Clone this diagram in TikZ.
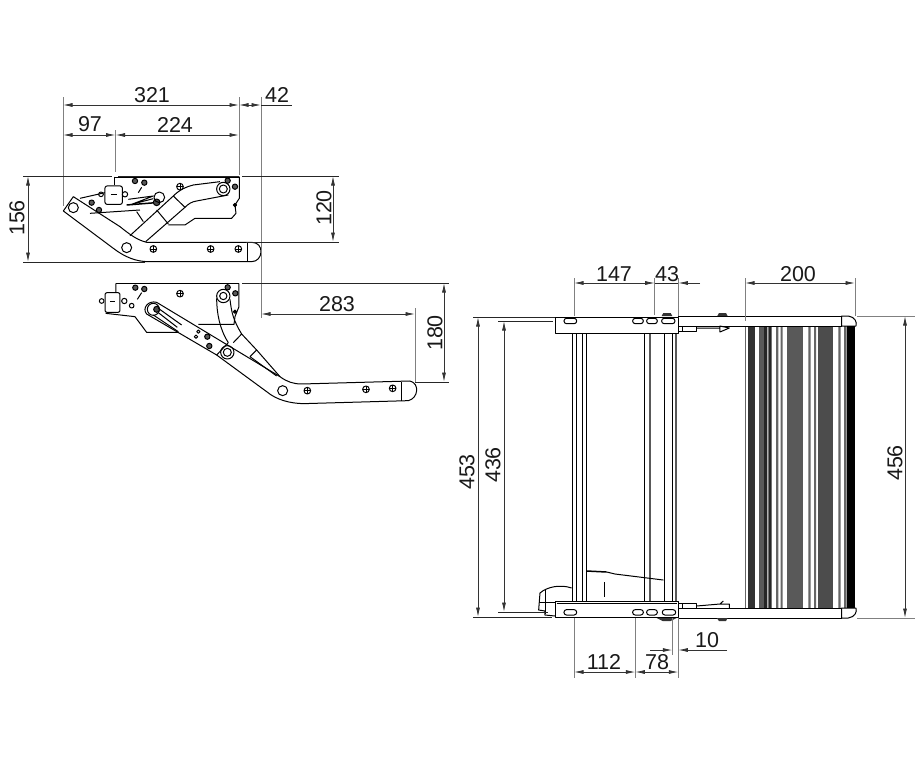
\documentclass[tikz,border=0pt]{standalone}
\usepackage{fontspec}
\setmainfont{Liberation Sans}
\usetikzlibrary{arrows.meta}
\tikzset{
  part/.style={draw=black,line width=1pt,line join=round},
  thin part/.style={draw=black,line width=0.7pt},
  heavy/.style={draw=black,line width=1.5pt},
  extline/.style={draw=black!50,line width=0.8pt},
  refline/.style={draw=black!85,line width=0.9pt},
  dimline/.style={draw=black!80,line width=0.8pt,{Latex[length=9.5pt,width=4pt]}-{Latex[length=9.5pt,width=4pt]}},
  dimtail/.style={draw=black!80,line width=0.8pt,-{Latex[length=9.5pt,width=4pt]}},
  dimtext/.style={font=\fontsize{21.5}{23}\selectfont,inner sep=0pt,text=black!90},
  zoomed/.style={x=0.3333pt,y=-0.3333pt}
}
\newcommand{\CrossScrew}[1]{%
  \draw[part] (#1) circle[radius=10];
  \draw[thin part] (#1) +(-10,0) -- +(10,0) (#1) +(0,-10) -- +(0,10);
}
\newcommand{\DarkScrew}[1]{%
  \draw[part,fill=black!65] (#1) circle[radius=8];
}
\newcommand{\SlotHole}[3]{%
  \draw[part,rounded corners=2.5pt] (#1-#3,#2-8) rectangle (#1+#3,#2+8);
}
\begin{document}
\begin{tikzpicture}[x=1pt,y=-1pt]
%
\useasboundingbox (0,0) rectangle (920,774);
%
% folded view
\begin{scope}[shift={(0,70)},zoomed]
\draw[part] (220,380) -- (190,423) -- (340,535) .. controls (375,562) and (410,575) .. (445,575) -- (755,575)
  .. controls (790,575) and (795,517) .. (755,517) -- (440,517) .. controls (410,510) and (385,490) .. (360,470) -- cycle;
\draw[part] (742,517) -- (742,575);
\draw[part] (390,497) -- (520,378) .. controls (540,358) and (560,350) .. (580,345) -- (660,335);
\draw[part] (437,515) -- (555,412) .. controls (565,402) and (575,395) .. (590,393) -- (685,375);
\draw[part] (470,420) -- (505,462) (520,378) -- (555,412) (410,425) -- (430,455);
\draw[part] (670,357) circle[radius=20];
\draw[part] (670,357) circle[radius=12];
\draw[part] (220,413) circle[radius=15];
\draw[part] (380,533) circle[radius=15];
\draw[heavy] (345,322) -- (718,322);
\draw[part] (718,320) -- (718,385) -- (705,405) -- (708,430) -- (695,445) -- (585,445) -- (555,465) -- (505,465);
\draw[part] (240,385) -- (315,368);
\draw[part] (270,430) -- (420,420);
\draw[part] (345,320) -- (345,345);
\draw[part,rounded corners=2pt,fill=white] (315,348) rectangle (367,403);
\draw[thin part] (333,373) -- (350,373);
\draw[part] (303,373) circle[radius=7] (375,373) circle[radius=8];
\draw[heavy] (380,405) -- (480,397);
\draw[part] (385,388) -- (460,378) -- (395,403) -- (460,386);
\draw[part,fill=black!70] (470,397) circle[radius=10];
\draw[part] (478,382) circle[radius=16];
\draw[part] (415,368) -- (425,352);
\CrossScrew{460,537}\CrossScrew{632,537}\CrossScrew{715,537}\CrossScrew{540,350}
\DarkScrew{405,333}\DarkScrew{433,338}\DarkScrew{683,332}\DarkScrew{705,350}\DarkScrew{297,420}\DarkScrew{275,398}
\draw[part,fill=black] (705,405) circle[radius=5];
\end{scope}
%
% opened view
\begin{scope}[shift={(90,270)},zoomed]
\draw[part] (200,97) -- (570,320) .. controls (590,335) and (610,342) .. (635,342) -- (960,333)
  .. controls (990,340) and (985,385) .. (955,392) -- (640,401) .. controls (600,400) and (560,390) .. (530,365)
  -- (380,255) -- (170,132) .. controls (155,115) and (175,90) .. (200,97);
\draw[part] (935,335) -- (935,392);
\draw[part] (415,218) -- (380,255);
\draw[part] (380,85) .. controls (380,130) and (390,180) .. (415,218);
\draw[part] (420,88) .. controls (425,130) and (430,150) .. (455,192) -- (500,240) -- (570,320);
\draw[part] (480,260) -- (560,318) (455,192) -- (430,218) (500,240) -- (480,260);
\draw[part] (400,78) circle[radius=20];
\draw[part] (400,78) circle[radius=11];
\draw[part] (412,247) circle[radius=20];
\draw[part] (412,247) circle[radius=12];
\draw[part] (578,362) circle[radius=15];
\draw[heavy] (78,41) -- (447,41);
\draw[part] (78,40) -- (78,68) (447,40) -- (447,110) -- (435,140) -- (432,163) -- (325,163);
\draw[part] (265,187) -- (170,187) -- (135,140) -- (47,130);
\draw[part,rounded corners=2pt,fill=white] (45,68) rectangle (90,127);
\draw[thin part] (60,93) -- (75,93);
\draw[part] (35,93) circle[radius=7] (103,93) circle[radius=8] (125,107) circle[radius=7];
\draw[part] (190,118) circle[radius=18];
\draw[part,fill=black!70] (200,118) circle[radius=9];
\draw[part] (205,115) -- (275,165) (190,135) -- (265,185) (205,128) -- (262,172);
\draw[part] (142,88) -- (155,68);
\draw[part] (325,185) circle[radius=5] (318,200) circle[radius=5];
\CrossScrew{652,362}\CrossScrew{828,358}\CrossScrew{908,355}\CrossScrew{270,71}
\DarkScrew{136,53}\DarkScrew{163,57}\DarkScrew{413,52}\DarkScrew{436,70}\DarkScrew{352,200}\DarkScrew{358,228}
\draw[part,fill=black] (435,125) circle[radius=5];
\end{scope}
%
% front view, step and tubes
\foreach \tx in {572,576.7,582,586,644,664.7,672} {
  \draw[thin part] (\tx,333) -- (\tx,601);
}
\draw[draw=black!65,line width=2.6pt] (650,333) -- (650,601) (676,333) -- (676,601);
\fill[black!60] (744.7,326) rectangle (746,608);
\fill[black!80] (748,326) rectangle (755.3,608);
\fill[black!65] (759.3,326) rectangle (764,608);
\fill[black!85] (764,326) rectangle (767.3,608) (768.3,326) rectangle (771.7,608);
\fill[black!60] (776,326) rectangle (778.3,608) (780.7,326) rectangle (782.7,608);
\fill[black!65] (786.7,326) rectangle (802.7,608);
\fill[black!60] (808.3,326) rectangle (810.7,608) (814,326) rectangle (816,608);
\fill[black!70] (818.3,326) rectangle (833.3,608);
\fill[black!60] (838.3,326) rectangle (840.7,608) (844,326) rectangle (846.7,608);
\fill[black] (847.3,326) rectangle (855,608);
%
\begin{scope}[shift={(460,0)},x=0.3333pt]
\draw[part] (655,316) -- (1145,316) (655,326) -- (1145,326);
\draw[part] (655,608) -- (1145,608) (655,618) -- (1145,618);
\draw[part] (1145,316) -- (1165,316) .. controls (1185,317) and (1192,322) .. (1188,326) -- (1145,326) -- cycle;
\draw[part] (1145,608) -- (1188,608) .. controls (1192,612) and (1185,617) .. (1165,618) -- (1145,618) -- cycle;
\fill[black!80] (605,316) -- (610,313) -- (632,313) -- (637,316) -- cycle (772,316) -- (777,313) -- (798,313) -- (803,316) -- cycle;
\fill[black!80] (590,618) -- (608,621) -- (632,621) -- (650,618) -- cycle (770,618) -- (777,621) -- (798,621) -- (803,618) -- cycle;
\draw[part] (655,326) rectangle (668,331) (668,326) rectangle (710,331);
\draw[part] (710,328) -- (780,328) (780,326) -- (808,328) -- (780,332) -- cycle;
\draw[part] (655,603) rectangle (668,608) (668,603) rectangle (710,608);
\draw[part] (710,606) -- (780,604) -- (808,604) -- (808,608) (780,604) -- (790,601);
\draw[heavy] (380,571) -- (440,572);
\draw[part] (440,572) -- (465,574) -- (610,580);
\draw[thin part] (432,582) -- (432,597);
\draw[part] (335,588) .. controls (300,584) and (260,587) .. (240,593) -- (236,610) -- (255,611) -- (255,615) -- (285,616);
\draw[part] (237,602) -- (287,602);
\draw[thin part] (255,590) -- (255,614);
\draw[part,fill=white] (287,317) rectangle (655,333);
\draw[part,fill=white] (287,601) rectangle (655,617);
\draw[thin part] (290,603.5) -- (652,603.5);
\end{scope}
%
\begin{scope}[shift={(460,260)},zoomed]
\SlotHole{331}{183}{19}\SlotHole{534}{183}{16}\SlotHole{576}{183}{16}\SlotHole{625}{183}{20}
\end{scope}
\begin{scope}[shift={(460,550)},zoomed]
\SlotHole{331}{187}{19}\SlotHole{534}{187}{16}\SlotHole{576}{187}{16}\SlotHole{627}{187}{20}
\end{scope}
%
% extension lines, folded view
\draw[extline] (63,97) -- (63,206);
\draw[extline] (239,97) -- (239,175);
\draw[extline] (115.5,130) -- (115.5,172);
\draw[extline] (261,97) -- (261,318);
\draw[refline] (23,176) -- (112,176) (118,176) -- (239,176) (242,176) -- (339,176);
\draw[refline] (23,262) -- (145,262);
\draw[refline] (246,242) -- (339,242);
% extension lines, opened view
\draw[refline] (242,283) -- (449,283);
\draw[extline] (415,308) -- (415,382);
\draw[refline] (415,382) -- (449,382);
% extension lines, front view
\draw[refline] (473,317) -- (555,317) (473,617) -- (552,617);
\draw[refline] (498,321) -- (553,321) (498,612) -- (548,612);
\draw[extline] (857,316) -- (915,316) (857,618) -- (915,618);
\draw[extline] (574,278) -- (574,316) (654.7,278) -- (654.7,315) (678.3,278) -- (678.3,316);
\draw[extline] (745,278) -- (745,321) (855,278) -- (855,316);
\draw[extline] (574,618) -- (574,678) (635.3,618) -- (635.3,678) (678.3,618) -- (678.3,678) (672.3,618) -- (672.3,655);
%
% dimensions
\draw[dimline] (63,105) -- (239,105);
\draw[dimline] (239,105) -- (261,105);
\draw[refline] (261,105) -- (292,105);
\draw[dimline] (63,135) -- (115.5,135);
\draw[dimline] (115.5,135) -- (239,135);
\draw[dimline] (28,176) -- (28,262);
\draw[dimline] (333,176) -- (333,242);
\draw[dimline] (261,314) -- (415,314);
\draw[dimline] (444,283) -- (444,382);
\draw[dimline] (478,317) -- (478,617);
\draw[dimline] (504,321) -- (504,612);
\draw[dimline] (905,316) -- (905,618);
\draw[dimline] (574,283) -- (654.7,283);
\draw[dimtail] (700,283) -- (678.3,283);
\draw[dimline] (745,283) -- (855,283);
\draw[dimline] (574,672) -- (635.3,672);
\draw[dimline] (635.3,672) -- (678.3,672);
\draw[dimtail] (650,650) -- (672.3,650);
\draw[dimtail] (727,650) -- (678.3,650);
\draw[refline] (654.7,283) -- (678.3,283);
%
% labels
\node[dimtext] (d321) at (152,95) {321};
\node[dimtext] (d42) at (277,95) {42};
\node[dimtext] (d97) at (90,124) {97};
\node[dimtext] (d224) at (175,125) {224};
\node[dimtext,rotate=90] (d156) at (17,218) {156};
\node[dimtext,rotate=90] (d120) at (324,208) {120};
\node[dimtext] (d283) at (337,304) {283};
\node[dimtext,rotate=90] (d180) at (435,333) {180};
\node[dimtext] (d147) at (614,274) {147};
\node[dimtext] (d43) at (667,274) {43};
\node[dimtext] (d200) at (798,274) {200};
\node[dimtext,rotate=90] (d453) at (467,472) {453};
\node[dimtext,rotate=90] (d436) at (493,465) {436};
\node[dimtext,rotate=90] (d456) at (895,463) {456};
\node[dimtext] (d112) at (604,662) {112};
\node[dimtext] (d78) at (657,662) {78};
\node[dimtext] (d10) at (707,640) {10};
%
\end{tikzpicture}
\end{document}
